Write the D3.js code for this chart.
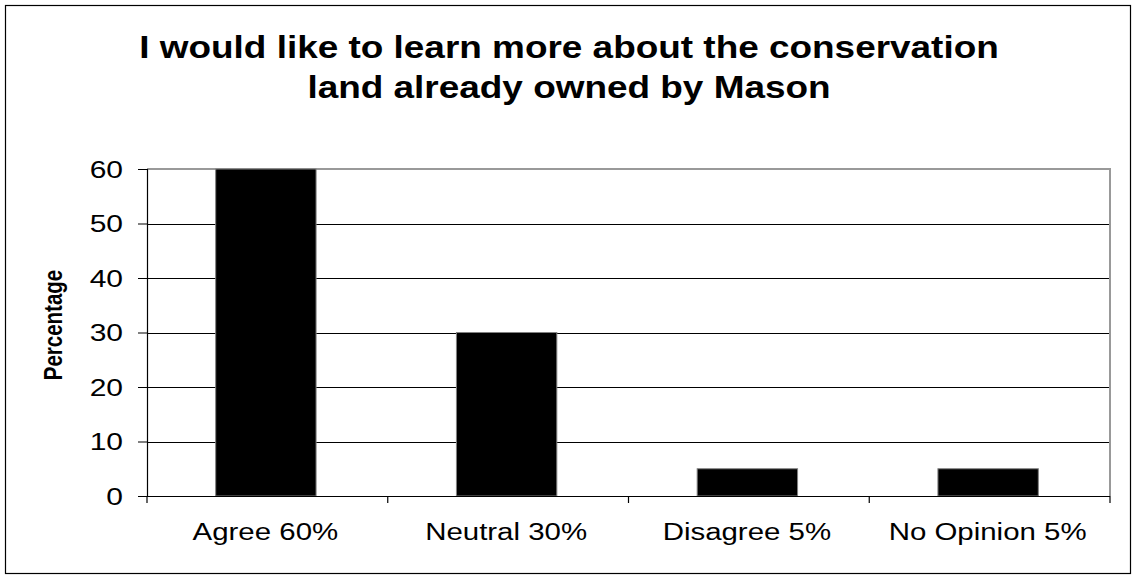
<!DOCTYPE html>
<html>
<head>
<meta charset="utf-8">
<script src="https://cdn.jsdelivr.net/npm/d3@7"></script>
<style>
  html, body { margin: 0; padding: 0; background: #fff; }
  svg { display: block; }
  text { font-family: Arial, "Liberation Sans", sans-serif; fill: #000; }
</style>
</head>
<body>
<svg id="chart" width="1134" height="577"></svg>
<script>
const categories = ["Agree 60%", "Neutral 30%", "Disagree 5%", "No Opinion 5%"];
const values = [60, 30, 5, 5];
const yTicks = [0, 10, 20, 30, 40, 50, 60];
const titleLines = ["I would like to learn more about the conservation", "land already owned by Mason"];
const yLabel = "Percentage";

const svg = d3.select("#chart");
const plot = { left: 147, right: 1110, top: 169, bottom: 496 };

// outer border
svg.append("rect").attr("x", 5.5).attr("y", 5.5).attr("width", 1125).attr("height", 568)
  .attr("fill", "#fff").attr("stroke", "#000").attr("stroke-width", 1.2);

const x = d3.scaleBand().domain(categories).range([plot.left, plot.right]).padding(0);
const y = d3.scaleLinear().domain([0, 60]).range([plot.bottom, plot.top]);

// gridlines
svg.append("g").selectAll("line").data(yTicks.filter(d => d > 0 && d < 60)).join("line")
  .attr("x1", plot.left).attr("x2", plot.right)
  .attr("y1", d => Math.round(y(d)) + 0.5).attr("y2", d => Math.round(y(d)) + 0.5)
  .attr("stroke", "#000").attr("stroke-width", 1);

// plot frame top/right (gray)
svg.append("path")
  .attr("d", `M${plot.left},${y(60)}H${plot.right}V${plot.bottom}`)
  .attr("fill", "none").attr("stroke", "#999").attr("stroke-width", 2);

// bars
const bw = x.bandwidth() * 0.417;
svg.append("g").selectAll("rect").data(values).join("rect")
  .attr("x", (d, i) => x(categories[i]) + x.bandwidth() / 2 - bw / 2 - 1.5)
  .attr("width", bw)
  .attr("y", d => y(d))
  .attr("height", d => y(0) - y(d))
  .attr("fill", "#000").attr("stroke", "#808080").attr("stroke-width", 1);

// y axis
const yAxis = d3.axisLeft(y).tickValues(yTicks).tickSize(9).tickFormat(() => "");
const gy = svg.append("g").attr("transform", `translate(${plot.left},0)`).call(yAxis);
gy.select(".domain").attr("stroke", "#000").attr("stroke-width", 1.2).attr("d", `M0.5,${plot.top}V${plot.bottom}`);
gy.selectAll(".tick line").attr("stroke", "#000");

// y tick labels (horizontally stretched)
svg.append("g").selectAll("g").data(yTicks).join("g")
  .attr("transform", d => `translate(123,${y(d) + 8.7}) scale(1.25,1)`)
  .append("text").attr("text-anchor", "end").attr("font-size", 24).text(d => d);

// x axis
const bounds = categories.map(c => x(c)).concat([plot.right]);
svg.append("line").attr("x1", plot.left - 9).attr("x2", plot.right)
  .attr("y1", plot.bottom + 0.5).attr("y2", plot.bottom + 0.5)
  .attr("stroke", "#000").attr("stroke-width", 1.2);
svg.append("g").selectAll("line").data(bounds).join("line")
  .attr("x1", d => d).attr("x2", d => d)
  .attr("y1", plot.bottom).attr("y2", plot.bottom + 7)
  .attr("stroke", "#000").attr("stroke-width", 1.2);

// x labels
svg.append("g").selectAll("g").data(categories).join("g")
  .attr("transform", d => `translate(${x(d) + x.bandwidth() / 2 - 2},539.5) scale(1.28,1)`)
  .append("text").attr("text-anchor", "middle").attr("font-size", 23).text(d => d);

// title
svg.append("g").selectAll("g").data(titleLines).join("g")
  .attr("transform", (d, i) => `translate(569,${57.5 + i * 40.8}) scale(1.18,1)`)
  .append("text").attr("text-anchor", "middle").attr("font-size", 31.3)
  .attr("font-weight", "bold").text(d => d);

// y label
svg.append("g").attr("transform", "translate(62,325) scale(1.23,1) rotate(-90)")
  .append("text").attr("text-anchor", "middle").attr("font-size", 20.5)
  .attr("font-weight", "bold").text(yLabel);
</script>
</body>
</html>
